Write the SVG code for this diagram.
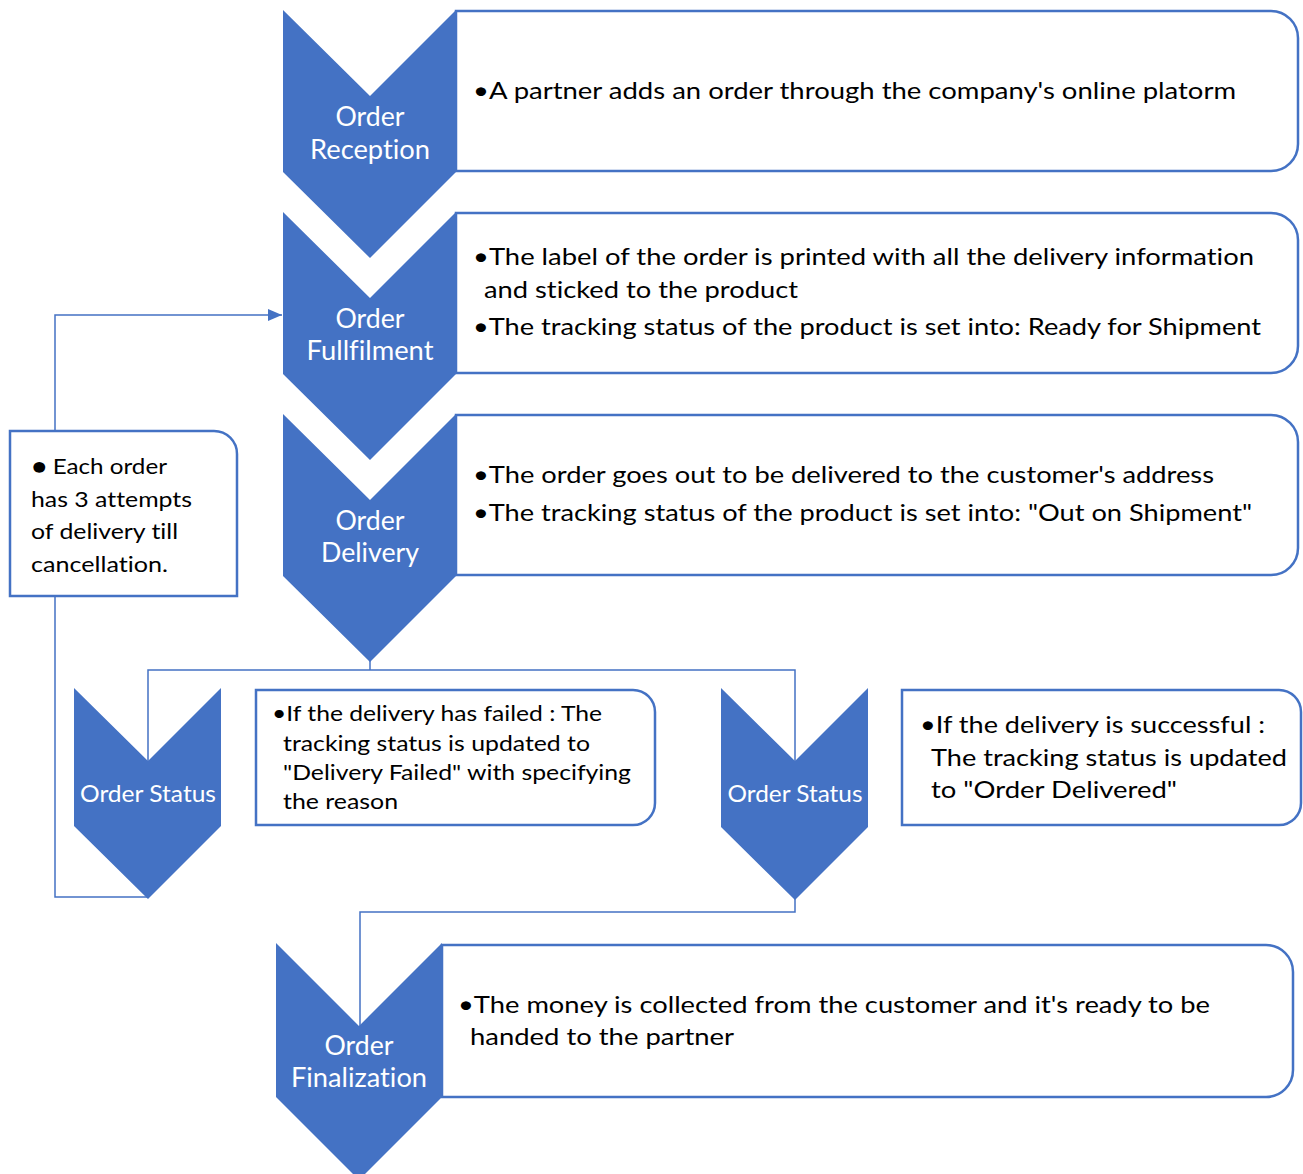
<svg xmlns="http://www.w3.org/2000/svg" width="1303" height="1174" viewBox="0 0 1303 1174">
  <style>
    .chev { fill: #4472C4; }
    .box { fill: #FFFFFF; stroke: #4472C4; stroke-width: 2.5; }
    .link { fill: none; stroke: #4472C4; stroke-width: 1.5; }
    .lbl { font-family: Lato, "Liberation Sans", sans-serif; fill: #FFFFFF; text-anchor: middle; font-variant-ligatures: none; }
    .txt { font-family: Lato, "Liberation Sans", sans-serif; fill: #000000; font-variant-ligatures: none; }
  </style>
  <defs>
    <marker id="arrow" viewBox="0 0 14 12" refX="14" refY="6" markerWidth="14" markerHeight="12" markerUnits="userSpaceOnUse" orient="auto">
      <path d="M0,0 L14,6 L0,12 Z" fill="#4472C4"/>
    </marker>
  </defs>
  <rect width="1303" height="1174" fill="#FFFFFF"/>

  <!-- connectors -->
  <g id="connectors">
    <polyline class="link" points="55,431 55,315 282,315" marker-end="url(#arrow)"/>
    <polyline class="link" points="55,596 55,897 148,897"/>
    <polyline class="link" points="370,660 370,670"/>
    <polyline class="link" points="148,761 148,670 795,670 795,761"/>
    <polyline class="link" points="795,899 795,912 360,912 360,1026"/>
  </g>

  <!-- step 1 -->
  <g id="order-reception">
    <path class="box" d="M456,11 H1271 A27,27 0 0 1 1298,38 V144 A27,27 0 0 1 1271,171 H456 Z"/>
    <path class="chev" d="M283,10 L370,96 L456,10 L456,172 L370,258 L283,172 Z"/>
    <text class="lbl" font-size="26" x="370" y="126" textLength="69" lengthAdjust="spacingAndGlyphs">Order</text>
    <text class="lbl" font-size="26" x="370" y="159" textLength="120" lengthAdjust="spacingAndGlyphs">Reception</text>
    <text class="txt" font-size="24" x="473" y="99" textLength="763" lengthAdjust="spacingAndGlyphs">•A partner adds an order through the company's online platorm</text>
  </g>

  <!-- step 2 -->
  <g id="order-fulfilment">
    <path class="box" d="M456,213 H1271 A27,27 0 0 1 1298,240 V346 A27,27 0 0 1 1271,373 H456 Z"/>
    <path class="chev" d="M283,212 L370,298 L456,212 L456,374 L370,460 L283,374 Z"/>
    <text class="lbl" font-size="26" x="370" y="328" textLength="69" lengthAdjust="spacingAndGlyphs">Order</text>
    <text class="lbl" font-size="26" x="370" y="360" textLength="127" lengthAdjust="spacingAndGlyphs">Fullfilment</text>
    <text class="txt" font-size="24" x="473" y="265" textLength="781" lengthAdjust="spacingAndGlyphs">•The label of the order is printed with all the delivery information</text>
    <text class="txt" font-size="24" x="484" y="298" textLength="314" lengthAdjust="spacingAndGlyphs">and sticked to the product</text>
    <text class="txt" font-size="24" x="473" y="335" textLength="788" lengthAdjust="spacingAndGlyphs">•The tracking status of the product is set into: Ready for Shipment</text>
  </g>

  <!-- step 3 -->
  <g id="order-delivery">
    <path class="box" d="M456,415 H1271 A27,27 0 0 1 1298,442 V548 A27,27 0 0 1 1271,575 H456 Z"/>
    <path class="chev" d="M283,414 L370,500 L456,414 L456,576 L370,662 L283,576 Z"/>
    <text class="lbl" font-size="26" x="370" y="530" textLength="69" lengthAdjust="spacingAndGlyphs">Order</text>
    <text class="lbl" font-size="26" x="370" y="562" textLength="98" lengthAdjust="spacingAndGlyphs">Delivery</text>
    <text class="txt" font-size="24" x="473" y="483" textLength="741" lengthAdjust="spacingAndGlyphs">•The order goes out to be delivered to the customer's address</text>
    <text class="txt" font-size="24" x="473" y="521" textLength="779" lengthAdjust="spacingAndGlyphs">•The tracking status of the product is set into: "Out on Shipment"</text>
  </g>

  <!-- retry note -->
  <g id="attempts-note">
    <path class="box" d="M10,431 H214 A23,23 0 0 1 237,454 V596 H10 Z"/>
    <text class="txt" font-size="22" x="32" y="474" textLength="135" lengthAdjust="spacingAndGlyphs">● Each order</text>
    <text class="txt" font-size="22" x="31" y="507" textLength="161" lengthAdjust="spacingAndGlyphs">has 3 attempts</text>
    <text class="txt" font-size="22" x="31" y="539" textLength="147" lengthAdjust="spacingAndGlyphs">of delivery till</text>
    <text class="txt" font-size="22" x="31" y="572" textLength="137" lengthAdjust="spacingAndGlyphs">cancellation.</text>
  </g>

  <!-- failed branch -->
  <g id="status-failed">
    <path class="chev" d="M74,688 L148,761 L221,688 L221,826 L148,899 L74,826 Z"/>
    <text class="lbl" font-size="23" x="148" y="802" textLength="136" lengthAdjust="spacingAndGlyphs">Order Status</text>
  </g>
  <g id="failed-note">
    <path class="box" d="M256,690 H633 A22,22 0 0 1 655,712 V803 A22,22 0 0 1 633,825 H256 Z"/>
    <text class="txt" font-size="21.5" x="272" y="721" textLength="330" lengthAdjust="spacingAndGlyphs">•If the delivery has failed : The</text>
    <text class="txt" font-size="21.5" x="283" y="751" textLength="307" lengthAdjust="spacingAndGlyphs">tracking status is updated to</text>
    <text class="txt" font-size="21.5" x="283" y="780" textLength="348" lengthAdjust="spacingAndGlyphs">"Delivery Failed" with specifying</text>
    <text class="txt" font-size="21.5" x="283" y="809" textLength="115" lengthAdjust="spacingAndGlyphs">the reason</text>
  </g>

  <!-- successful branch -->
  <g id="status-delivered">
    <path class="chev" d="M721,688 L795,761 L868,688 L868,827 L795,900 L721,827 Z"/>
    <text class="lbl" font-size="23" x="795" y="802" textLength="135" lengthAdjust="spacingAndGlyphs">Order Status</text>
  </g>
  <g id="delivered-note">
    <path class="box" d="M902,690 H1279 A22,22 0 0 1 1301,712 V803 A22,22 0 0 1 1279,825 H902 Z"/>
    <text class="txt" font-size="24" x="920" y="733" textLength="345" lengthAdjust="spacingAndGlyphs">•If the delivery is successful :</text>
    <text class="txt" font-size="24" x="931" y="766" textLength="356" lengthAdjust="spacingAndGlyphs">The tracking status is updated</text>
    <text class="txt" font-size="24" x="931" y="798" textLength="246" lengthAdjust="spacingAndGlyphs">to "Order Delivered"</text>
  </g>

  <!-- final step -->
  <g id="order-finalization">
    <path class="box" d="M442,945 H1266 A27,27 0 0 1 1293,972 V1070 A27,27 0 0 1 1266,1097 H442 Z"/>
    <path class="chev" d="M276,943 L359,1026 L442,943 L442,1097 L359,1180 L276,1097 Z"/>
    <text class="lbl" font-size="26" x="359" y="1055" textLength="69" lengthAdjust="spacingAndGlyphs">Order</text>
    <text class="lbl" font-size="26" x="359" y="1087" textLength="136" lengthAdjust="spacingAndGlyphs">Finalization</text>
    <text class="txt" font-size="24" x="458" y="1013" textLength="752" lengthAdjust="spacingAndGlyphs">•The money is collected from the customer and it's ready to be</text>
    <text class="txt" font-size="24" x="470" y="1045" textLength="264" lengthAdjust="spacingAndGlyphs">handed to the partner</text>
  </g>
</svg>
